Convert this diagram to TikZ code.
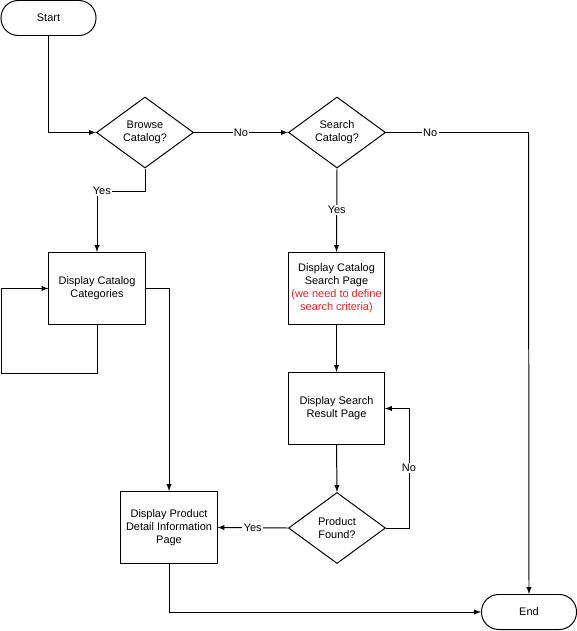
\documentclass[tikz,border=0pt]{standalone}
\usepackage{fontspec}
\setmainfont{Liberation Sans}
\usetikzlibrary{shapes.geometric, arrows}
\definecolor{notered}{RGB}{225,35,40}

\begin{document}
\begin{tikzpicture}[x=0.025cm, y=-0.025cm, line width=0.7pt,
		font=\fontsize{7.8}{9.2}\selectfont,
		term/.style={draw, rounded corners=0.43cm, minimum width=2.375cm, minimum height=0.875cm, inner sep=0pt},
		proc/.style={draw, align=center, minimum width=2.4cm, minimum height=1.8cm, inner sep=1pt},
		decide/.style={draw, diamond, aspect=1.37, align=center, minimum width=2.425cm, minimum height=1.775cm, inner sep=0pt},
		arr/.style={-latex},
		lbl/.style={fill=white, inner sep=1pt}]
	\useasboundingbox (0,0) rectangle (577,631);
	\node[term] (start) at (48.5,18) {Start};
	\node[decide] (browse) at (145,132.5) {Browse\\Catalog?};
	\node[decide] (search) at (337,132.5) {Search\\Catalog?};
	\node[proc] (cat) at (97,288.5) {Display Catalog\\Categories};
	\node[proc] (spage) at (336.5,288.5) {Display Catalog\\Search Page\\\textcolor{notered}{(we need to define}\\\textcolor{notered}{search criteria)}};
	\node[proc] (result) at (336.5,408.5) {Display Search\\Result Page};
	\node[decide] (found) at (337,528) {Product\\Found?};
	\node[proc] (prod) at (169,527.5) {Display Product\\Detail Information\\Page};
	\node[term] (end) at (529,612) {End};
	\coordinate (yesturn) at (97,191);
	\coordinate (loop) at (1,373);
	\coordinate (noturn) at (528.5,132.5);

	\draw[arr] (start.south) |- (browse.west);
	\draw[arr] (browse.south) |- (yesturn) -- (cat.north);
	\node[lbl, xshift=0.12cm] at (yesturn) {Yes};
	\draw[arr] (cat.south) |- (loop) |- (cat.west);
	\draw[arr] (cat.east) -| (prod.north);
	\draw[arr] (browse.east) -- (search.west) node[lbl, midway] {No};
	\draw (search.east) -- (noturn) node[lbl, pos=0.31] {No};
	\draw[arr] (noturn) -- (end.north);
	\draw[arr] (search.south) -- (spage.north) node[lbl, midway] {Yes};
	\draw[arr] (spage.south) -- (result.north);
	\draw[arr] (result.south) -- (found.north);
	\draw[arr] (found.east) -- ++(23,0) |- (result.east) node[lbl, pos=0.25] {No};
	\draw[arr] (found.west) -- (prod.east) node[lbl, midway] {Yes};
	\draw[arr] (prod.south) |- (end.west);
\end{tikzpicture}
\end{document}
